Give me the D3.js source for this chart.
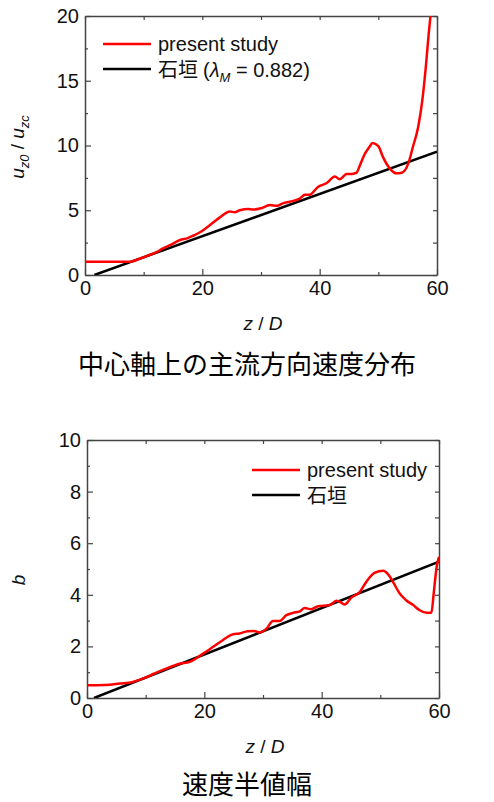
<!DOCTYPE html>
<html>
<head>
<meta charset="utf-8">
<script src="https://cdn.jsdelivr.net/npm/d3@7"></script>
<style>
    body { margin: 0; background: #fff; }
    svg { display: block; }
    .tick text { font-family: "Liberation Sans", Arial, sans-serif; }
</style>
</head>
<body>
<div id="chart"></div>
<script>
// Centre-axis velocity and half-width along z/D

// top panel: u_z0 / u_zc
const topZ = [0, 2, 4, 6, 7.7, 9, 10.5, 12, 13.3, 14.5, 16.2, 17.5, 18.5, 19.6, 21,
    23, 24.7, 25.5, 26.4, 27.8, 28.7, 30, 31.5, 32.7, 33.8, 34.9, 36.6, 37.5, 38.3, 39.7,
    41.2, 42.6, 43.4, 44.6, 45.5, 46.3, 46.8, 47.7, 48.5, 49.0, 50.0, 50.8, 52.0, 53.1, 54.0,
    55.1, 55.9, 56.8, 57.5, 58.1, 58.6, 59.0];
const topRed = [1.03, 1.03, 1.03, 1.03, 1.03, 1.2, 1.46, 1.72, 2.05, 2.3, 2.7, 2.85, 3.05, 3.3, 3.75,
    4.45, 4.9, 4.85, 5.0, 5.1, 5.05, 5.15, 5.4, 5.35, 5.55, 5.66, 5.9, 6.2, 6.2, 6.8,
    7.1, 7.6, 7.4, 7.8, 7.8, 7.9, 8.4, 9.35, 9.9, 10.2, 9.95, 9.1, 8.2, 7.85, 7.9,
    8.6, 9.9, 11.45, 13.5, 16.1, 18.7, 20.5];
const topBlackZ = [1.6, 60];
const topBlack = [0, 9.52];

// bottom panel: b
const botZ = [0, 3, 5.6, 7.8, 9.5, 11.5, 13.5, 15.8, 17.5, 19.8, 21, 22.7, 24.9, 26.0, 27.4,
    28.5, 29.4, 30.6, 31.7, 32.8, 34.0, 35.1, 36.3, 37.1, 38.2, 39.4, 41.4, 42.5, 43.1, 43.9,
    45.1, 46.5, 47.6, 49.0, 50.5, 51.3, 52.2, 53.3, 54.4, 55.6, 56.7, 57.9, 58.7, 59.1, 59.6, 60];
const botRed = [0.49, 0.5, 0.56, 0.62, 0.75, 0.95, 1.14, 1.33, 1.40, 1.72, 1.9, 2.17, 2.47, 2.5, 2.59,
    2.6, 2.54, 2.69, 2.98, 2.98, 3.21, 3.3, 3.36, 3.49, 3.44, 3.56, 3.6, 3.77, 3.73, 3.62,
    3.9, 4.11, 4.5, 4.85, 4.93, 4.8, 4.48, 4.05, 3.79, 3.6, 3.4, 3.3, 3.3, 4.06, 5.08, 5.47];
const botBlackZ = [1.2, 60];
const botBlack = [0, 5.28];

const xTicks = [0, 20, 40, 60];
const xMinor = [10, 30, 50];
const topYTicks = [0, 5, 10, 15, 20];
const topYMinor = [2.5, 7.5, 12.5, 17.5];
const botYTicks = [0, 2, 4, 6, 8, 10];
const botYMinor = [1, 3, 5, 7, 9];

const LATIN = '"Liberation Sans", Arial, sans-serif';
const CJK = '"Noto Sans CJK JP", sans-serif';

const svg = d3.select('#chart').append('svg')
    .attr('width', 494)
    .attr('height', 802);

function drawPanel(p) {
    const x = d3.scaleLinear().domain([0, 60]).range([p.left, p.right]);
    const y = d3.scaleLinear().domain(p.yDomain).range([p.bottom, p.top]);
    const g = svg.append('g');

    const clipId = 'clip' + p.id;
    g.append('clipPath').attr('id', clipId)
        .append('rect')
        .attr('x', p.left).attr('y', p.top)
        .attr('width', p.right - p.left).attr('height', p.bottom - p.top);

    // axes: ticks point inward on all four sides
    const axisStyle = a => {
        a.selectAll('.domain').attr('stroke', '#444').attr('stroke-width', 1.5);
        a.selectAll('.tick line').attr('stroke', '#444').attr('stroke-width', 1.2);
        a.selectAll('.tick text').attr('fill', '#111').attr('font-size', '20px');
    };
    const bottom = g.append('g').attr('transform', `translate(0,${p.bottom})`)
        .call(d3.axisBottom(x).tickValues(xTicks).tickSizeInner(-6).tickSizeOuter(0).tickPadding(4));
    bottom.call(axisStyle);
    bottom.selectAll('.tick text').attr('dy', '0.78em');
    g.append('g').attr('transform', `translate(0,${p.bottom})`)
        .call(d3.axisBottom(x).tickValues(xMinor).tickSizeInner(-3).tickSizeOuter(0).tickFormat(''))
        .call(axisStyle).select('.domain').remove();

    const topAx = g.append('g').attr('transform', `translate(0,${p.top})`)
        .call(d3.axisTop(x).tickValues(xTicks.concat(xMinor)).tickSizeInner(-4).tickSizeOuter(0).tickFormat(''));
    topAx.call(axisStyle);

    const left = g.append('g').attr('transform', `translate(${p.left},0)`)
        .call(d3.axisLeft(y).tickValues(p.yTicks).tickSizeInner(-6).tickSizeOuter(0).tickPadding(6));
    left.call(axisStyle);
    g.append('g').attr('transform', `translate(${p.left},0)`)
        .call(d3.axisLeft(y).tickValues(p.yMinor).tickSizeInner(-3).tickSizeOuter(0).tickFormat(''))
        .call(axisStyle).select('.domain').remove();

    g.append('g').attr('transform', `translate(${p.right},0)`)
        .call(d3.axisRight(y).tickValues(p.yTicks.concat(p.yMinor)).tickSizeInner(-4).tickSizeOuter(0).tickFormat(''))
        .call(axisStyle);

    // curves
    const line = d3.line()
        .x(d => x(d[0]))
        .y(d => y(d[1]))
        .curve(d3.curveMonotoneX);

    const plot = g.append('g').attr('clip-path', `url(#${clipId})`);
    plot.append('path')
        .datum(p.blackZ.map((z, i) => [z, p.black[i]]))
        .attr('d', line)
        .attr('fill', 'none')
        .attr('stroke', '#000')
        .attr('stroke-width', 2.5);
    plot.append('path')
        .datum(p.redZ.map((z, i) => [z, p.red[i]]))
        .attr('d', line)
        .attr('fill', 'none')
        .attr('stroke', '#ff0000')
        .attr('stroke-width', 2.5);

    // legend
    const lg = g.append('g').attr('transform', `translate(${p.legX},${p.legY})`);
    lg.append('line').attr('x1', 0).attr('x2', 48).attr('y1', 0).attr('y2', 0)
        .attr('stroke', '#ff0000').attr('stroke-width', 2.5);
    lg.append('text').attr('x', 55).attr('y', 7)
        .attr('font-family', LATIN).attr('font-size', '20px').attr('fill', '#111')
        .text('present study');
    lg.append('line').attr('x1', 0).attr('x2', 48).attr('y1', 25).attr('y2', 25)
        .attr('stroke', '#000').attr('stroke-width', 2.5);
    const t2 = lg.append('text').attr('x', 55).attr('y', 33)
        .attr('font-size', '20px').attr('fill', '#111');
    t2.append('tspan').attr('font-family', CJK).text('石垣');
    if (p.lambda) {
        t2.append('tspan').attr('font-family', LATIN).attr('dx', 5).text('(');
        t2.append('tspan').attr('font-family', LATIN).attr('font-style', 'italic').text('λ');
        t2.append('tspan').attr('font-family', LATIN).attr('font-style', 'italic')
            .attr('font-size', '13px').attr('dy', 5).text('M');
        t2.append('tspan').attr('font-family', LATIN).attr('dy', -5).text(' = 0.882)');
    }

    // x label
    const xl = g.append('text')
        .attr('x', (p.left + p.right) / 2 + 2)
        .attr('y', p.bottom + 55)
        .attr('text-anchor', 'middle')
        .attr('font-family', LATIN).attr('font-size', '19px').attr('fill', '#111');
    xl.append('tspan').attr('font-style', 'italic').text('z');
    xl.append('tspan').text(' / ');
    xl.append('tspan').attr('font-style', 'italic').text('D');

    // title
    g.append('text')
        .attr('x', 247)
        .attr('y', p.bottom + p.titleDy)
        .attr('text-anchor', 'middle')
        .attr('font-family', CJK).attr('font-size', '26px').attr('fill', '#000')
        .text(p.title);

    return g;
}

const g1 = drawPanel({
    id: 1, left: 85, right: 437, top: 16, bottom: 275,
    yDomain: [0, 20], yTicks: topYTicks, yMinor: topYMinor,
    redZ: topZ, red: topRed, blackZ: topBlackZ, black: topBlack,
    legX: 103, legY: 44, lambda: true,
    title: '中心軸上の主流方向速度分布', titleDy: 99
});

const g2 = drawPanel({
    id: 2, left: 87, right: 439, top: 440, bottom: 698,
    yDomain: [0, 10], yTicks: botYTicks, yMinor: botYMinor,
    redZ: botZ, red: botRed, blackZ: botBlackZ, black: botBlack,
    legX: 252, legY: 470, lambda: false,
    title: '速度半値幅', titleDy: 96
});

// y labels
const yl1 = g1.append('text')
    .attr('transform', 'translate(24,147) rotate(-90)')
    .attr('text-anchor', 'middle')
    .attr('font-family', LATIN).attr('font-size', '19px').attr('fill', '#111');
yl1.append('tspan').attr('font-style', 'italic').text('u');
yl1.append('tspan').attr('font-style', 'italic').attr('font-size', '13px').attr('dy', 5).text('z0');
yl1.append('tspan').attr('dy', -5).text(' / ');
yl1.append('tspan').attr('font-style', 'italic').text('u');
yl1.append('tspan').attr('font-style', 'italic').attr('font-size', '13px').attr('dy', 5).text('zc');

g2.append('text')
    .attr('transform', 'translate(25,580) rotate(-90)')
    .attr('text-anchor', 'middle')
    .attr('font-family', LATIN).attr('font-size', '19px').attr('font-style', 'italic').attr('fill', '#111')
    .text('b');
</script>
</body>
</html>
